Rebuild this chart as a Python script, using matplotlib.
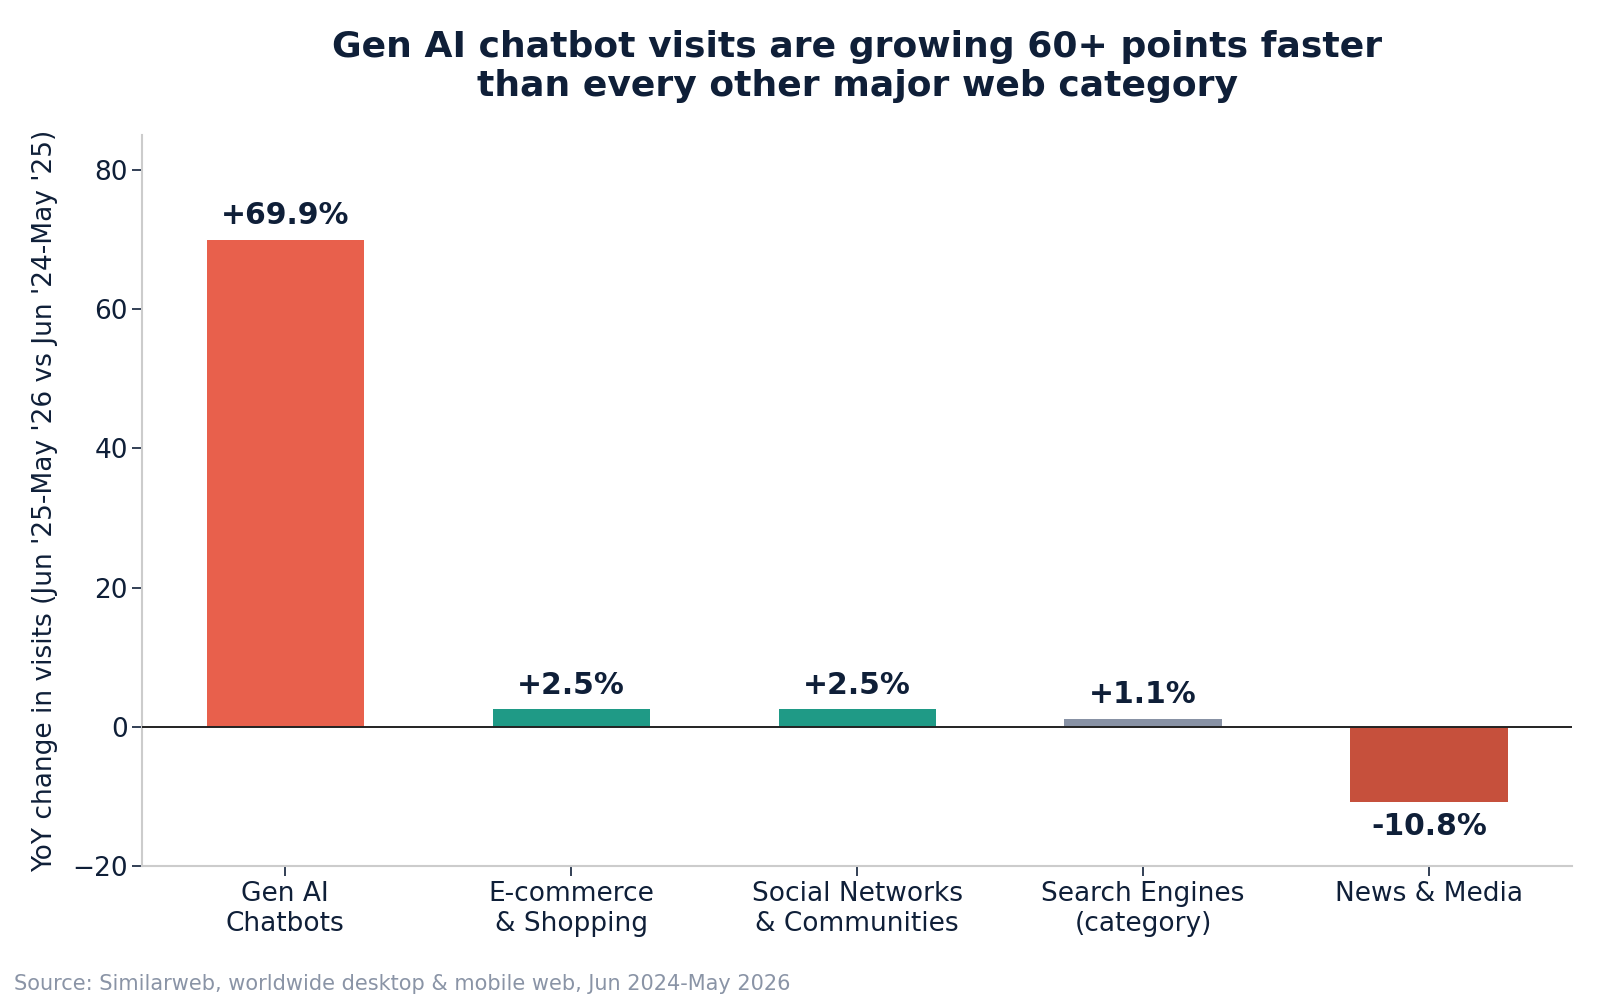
import numpy as np
import matplotlib.pyplot as plt

categories = ['Gen AI\nChatbots', 'E-commerce\n& Shopping', 'Social Networks\n& Communities',
              'Search Engines\n(category)', 'News & Media']
yoy_change = [69.9, 2.5, 2.5, 1.1, -10.8]
bar_colors = ['#e8604c', '#1f9a86', '#1f9a86', '#8892a5', '#c6503c']
value_labels = ['+69.9%', '+2.5%', '+2.5%', '+1.1%', '-10.8%']

dark = '#0f1f38'

fig = plt.figure(figsize=(16, 10), dpi=100)
ax = fig.add_axes([0.089, 0.134, 0.8935, 0.731])

x = np.arange(len(categories))
ax.bar(x, yoy_change, width=0.55, color=bar_colors, zorder=2)
ax.axhline(0, color='#222222', lw=1.4, zorder=3)

for xi, v, lab in zip(x, yoy_change, value_labels):
    if v >= 0:
        ax.annotate(lab, (xi, v), xytext=(0, 7), textcoords='offset points',
                    ha='center', va='bottom', fontsize=21.5, fontweight='bold', color=dark)
    else:
        ax.annotate(lab, (xi, v), xytext=(0, -7), textcoords='offset points',
                    ha='center', va='top', fontsize=21.5, fontweight='bold', color=dark)

ax.set_xlim(-0.5, 4.5)
ax.set_ylim(-20, 85)
ax.set_yticks([-20, 0, 20, 40, 60, 80])
ax.set_xticks(x)
ax.set_xticklabels(categories, fontsize=19, color=dark)
ax.tick_params(axis='y', labelsize=19, labelcolor=dark, color=dark, length=7, width=1.2)
ax.tick_params(axis='x', color=dark, length=7, width=1.2)
ax.set_ylabel("YoY change in visits (Jun '25-May '26 vs Jun '24-May '25)", fontsize=19,
              color=dark, labelpad=10)

for s in ['top', 'right']:
    ax.spines[s].set_visible(False)
for s in ['left', 'bottom']:
    ax.spines[s].set_color('#cccccc')
    ax.spines[s].set_linewidth(1.5)

ax.set_title('Gen AI chatbot visits are growing 60+ points faster\nthan every other major web category',
             fontsize=26, fontweight='bold', color=dark, pad=28)

fig.text(0.009, 0.006, 'Source: Similarweb, worldwide desktop & mobile web, Jun 2024-May 2026',
         fontsize=15, color='#8a94a6', ha='left', va='bottom')

fig.savefig('out.png', dpi=100)
